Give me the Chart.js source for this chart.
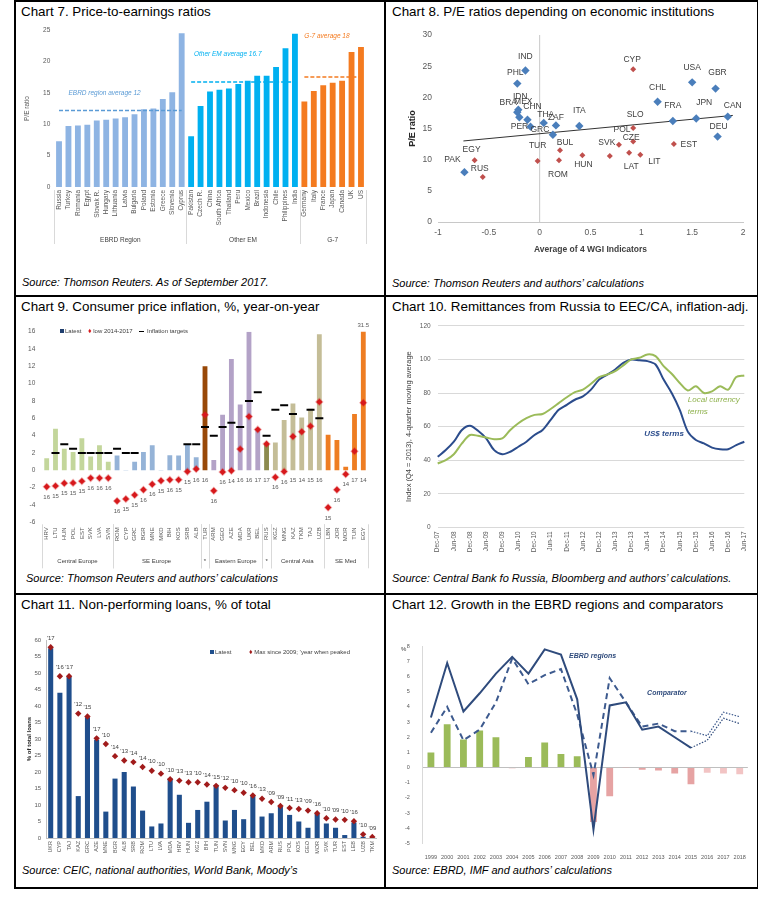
<!DOCTYPE html>
<html>
<head>
<meta charset="utf-8">
<script src="https://cdn.jsdelivr.net/npm/chart.js@4.4.0/dist/chart.umd.min.js"></script>
<style>
  body { margin: 0; background: #fff; }
  #page { position: relative; width: 770px; height: 906px; background: #fff;
          font-family: "Liberation Sans", Arial, sans-serif; }
  .ln { position: absolute; background: #000; }
  .ttl { position: absolute; font-size: 13.4px; line-height: 16px; color: #000; white-space: nowrap; }
  .src { position: absolute; font-size: 11px; line-height: 14px; font-style: italic; color: #000; white-space: nowrap; }
  canvas { position: absolute; }
  .lg { position: absolute; font-size: 6px; line-height: 8px; color: #404040; white-space: nowrap; }
  .lg i { display: inline-block; vertical-align: middle; margin-right: 1px; }
</style>
</head>
<body>
<div id="page">
  <!-- table frame -->
  <div class="ln" style="left:14px;top:0;width:744px;height:1.5px"></div>
  <div class="ln" style="left:14px;top:887px;width:744px;height:1.5px"></div>
  <div class="ln" style="left:14px;top:0;width:1.5px;height:889px"></div>
  <div class="ln" style="left:756.5px;top:0;width:1.5px;height:889px"></div>
  <div class="ln" style="left:384px;top:0;width:1.5px;height:889px"></div>
  <div class="ln" style="left:14px;top:295px;width:744px;height:1.5px"></div>
  <div class="ln" style="left:14px;top:593px;width:744px;height:1.5px"></div>

  <div class="ttl" style="left:21px;top:4px">Chart 7. Price-to-earnings ratios</div>
  <div class="ttl" style="left:392px;top:4px">Chart 8. P/E ratios depending on economic institutions</div>
  <div class="ttl" style="left:21px;top:299px">Chart 9. Consumer price inflation, %, year-on-year</div>
  <div class="ttl" style="left:392px;top:299px">Chart 10. Remittances from Russia to EEC/CA, inflation-adj.</div>
  <div class="ttl" style="left:21px;top:597px">Chart 11. Non-performing loans, % of total</div>
  <div class="ttl" style="left:392px;top:597px">Chart 12. Growth in the EBRD regions and comparators</div>

  <div class="src" style="left:22px;top:275px">Source: Thomson Reuters. As of September 2017.</div>
  <div class="src" style="left:392px;top:276px">Source: Thomson Reuters and authors’ calculations</div>
  <div class="src" style="left:26px;top:571px">Source: Thomson Reuters and authors’ calculations</div>
  <div class="src" style="left:392px;top:571px">Source: Central Bank fo Russia, Bloomberg and authors’ calculations.</div>
  <div class="src" style="left:22px;top:863px">Source: CEIC, national authorities, World Bank, Moody’s</div>
  <div class="src" style="left:392px;top:863px">Source: EBRD, IMF and authors’ calculations</div>

  <canvas id="c7" width="370" height="236" style="left:14px;top:20px"></canvas>
  <canvas id="c8" width="371" height="256" style="left:386px;top:22px"></canvas>
  <canvas id="c9" width="370" height="254" style="left:14px;top:318px"></canvas>
  <canvas id="c10" width="371" height="253" style="left:386px;top:315px"></canvas>
  <canvas id="c11" width="370" height="236" style="left:14px;top:628px"></canvas>
  <canvas id="c12" width="371" height="236" style="left:386px;top:630px"></canvas>

  <div class="lg" style="left:60px;top:327px">
    <i style="width:4px;height:4px;background:#1F3E6E"></i>Latest&nbsp;&nbsp;&nbsp;
    <span style="color:#D7191C;font-size:7px">&#9830;</span> low 2014-2017&nbsp;&nbsp;&nbsp;
    <i style="width:5px;height:1.5px;background:#000"></i> Inflation targets
  </div>
  <div class="lg" style="left:210px;top:648px">
    <i style="width:4px;height:4px;background:#1F4E8C"></i>Latest
  </div>
  <div class="lg" style="left:249px;top:648px">
    <span style="color:#A11B1B;font-size:7px">&#9830;</span> Max since 2009; ’year when peaked
  </div>
  <div class="lg" style="left:401px;top:645px;font-size:6px">%</div>
</div>

<script>
// ---------- Chart 7 data ----------
const peCountries = ["Russia", "Turkey", "Romania", "Egypt", "Slovak R.", "Hungary", "Lithuania", "Latvia",
  "Bulgaria", "Poland", "Estonia", "Greece", "Slovenia", "Cyprus",
  "Pakistan", "Czech R.", "China", "South Africa", "Thailand", "Peru", "Mexico", "Brazil", "Indonesia",
  "Chile", "Philippines", "India",
  "Germany", "Italy", "France", "Japan", "Canada", "UK", "US"];
const peValues = [7.3, 9.7, 9.8, 9.9, 10.6, 10.7, 10.9, 11.1, 11.6, 12.4, 12.5, 14.0, 15.1, 24.5,
  8.1, 12.9, 15.2, 15.5, 15.7, 16.4, 16.9, 17.7, 17.7, 19.1, 22.1, 24.4,
  13.6, 15.3, 16.2, 16.6, 16.9, 21.5, 22.3];
const peGroupNames = ["EBRD Region", "Other EM", "G-7"];
const peGroupSizes = [14, 12, 7];
const peGroupAverages = [12.2, 16.7, 17.5];
const peAverageTexts = ["EBRD region average 12", "Other EM average 16.7", "G-7 average 18"];

// ---------- Chart 8 data ----------
const wgiNamesBlue = ["IND", "PHL", "IDN", "BRA", "MEX", "CHN", "PER", "THA", "ZAF", "GRC", "ITA",
  "CHL", "FRA", "USA", "JPN", "GBR", "CAN", "DEU", "PAK"];
const wgiXBlue = [-0.14, -0.22, -0.21, -0.22, -0.2, -0.12, -0.09, 0.04, 0.16, 0.13, 0.39,
  1.16, 1.31, 1.5, 1.54, 1.73, 1.85, 1.75, -0.74];
const wgiPEBlue = [24.3, 22.2, 18.0, 17.6, 16.8, 16.4, 15.3, 15.9, 15.5, 14.0, 15.4,
  19.3, 16.2, 22.4, 16.6, 21.4, 16.9, 13.7, 8.0];
const wgiNamesRed = ["CYP", "SLO", "POL", "CZE", "SVK", "LAT", "LIT", "EST", "HUN", "BUL", "ROM", "TUR", "EGY", "RUS"];
const wgiXRed = [0.92, 0.92, 0.78, 0.92, 0.69, 0.88, 0.99, 1.32, 0.42, 0.2, 0.19, -0.02, -0.64, -0.56];
const wgiPERed = [24.5, 15.1, 12.4, 12.9, 10.6, 11.1, 10.8, 12.5, 10.7, 11.5, 9.9, 9.8, 9.9, 7.2];
const wgiTrendX = [-0.75, 1.9];
const wgiTrendY = [13.0, 17.1];

// ---------- Chart 9 data ----------
const cpiCountries = ["HRV", "LTU", "HUN", "POL", "EST", "SVK", "LVA", "SVN",
  "ROM", "CYP", "GRC", "BGR", "MNE", "MKD", "BIH", "KOS", "SRB", "ALB",
  "TUR", "ARM", "GEO", "AZE", "MDA", "UKR", "BEL", "RUS",
  "KGZ", "MNG", "KAZ", "TKM", "TAJ", "UZB", "LBN", "JOR", "MOR", "TUN", "EGY"];
const cpiLatest = [1.4, 4.8, 2.5, 2.1, 3.7, 1.6, 2.9, 1.0,
  1.7, 0.05, 1.0, 2.1, 2.9, 0.05, 1.75, 1.7, 3.0, 1.5,
  12.0, 1.2, 6.4, 12.85, 7.6, 16.0, 4.8, 3.0,
  3.2, 5.8, 7.7, 6.1, 7.1, 15.7, 4.1, 3.5, 0.4, 6.5, 31.5];
const cpiLow = [-1.9, -1.8, -1.5, -1.45, -1.25, -0.9, -0.9, -0.9,
  -3.55, -3.3, -2.85, -2.25, -1.6, -1.2, -1.1, -1.1, -0.15, 0.15,
  6.4, -2.35, -0.2, -0.05, 2.45, 6.2, 4.7, 3.05,
  -0.8, -0.15, 3.9, 4.45, 5.1, 7.9, -4.3, -2.25, -0.45, 2.2, 7.8];
const cpiLowYear = ["16", "15", "15", "15", "15", "16", "16", "16",
  "16", "15", "15", "16", "16", "15", "16", "15", "15", "16",
  "16", "16", "16", "14", "16", "16", "17", "17",
  "16", "16", "15", "14", "15", "16", "15", "16", "14", "17", "14"];
const cpiTarget = [null, 2, 3, 2.5, 2, 2, 2, 2,
  2.5, 2, 2, null, null, null, null, null, 3, 3,
  5, 4, 5, 5.5, 5, 8, 9, 4,
  7, 7.5, 6.5, null, 7, 6, null, null, null, null, null];
const cpiRegions = ["Central Europe", "SE Europe", "*", "Eastern Europe", "*", "Central Asia", "SE Med"];
const cpiRegionSizes = [8, 10, 1, 6, 1, 6, 5];

// ---------- Chart 10 data ----------
const remitQuarters = ["Dec-07", "Mar-08", "Jun-08", "Sep-08", "Dec-08", "Mar-09", "Jun-09", "Sep-09",
  "Dec-09", "Mar-10", "Jun-10", "Sep-10", "Dec-10", "Mar-11", "Jun-11", "Sep-11", "Dec-11", "Mar-12",
  "Jun-12", "Sep-12", "Dec-12", "Mar-13", "Jun-13", "Sep-13", "Dec-13", "Mar-14", "Jun-14", "Sep-14",
  "Dec-14", "Mar-15", "Jun-15", "Sep-15", "Dec-15", "Mar-16", "Jun-16", "Sep-16", "Dec-16", "Mar-17", "Jun-17"];
const remitUsd = [42, 46, 51, 58, 60.5, 57.5, 53, 46, 43.5, 45, 48, 51, 55, 58, 64, 70, 73, 76, 78, 82,
  88, 91, 94, 98, 100, 99.5, 99, 97, 88, 80, 70, 57, 52, 50, 47.5, 46.5, 46.5, 49, 51];
const remitLocal = [38, 40, 43.5, 50, 55, 54.5, 53.5, 52.5, 53, 58, 62, 65, 67, 67.5, 70.5, 74, 77.5, 80.5, 82, 85.5,
  89.5, 91, 93, 96.5, 100, 101, 103, 102, 96, 91.5, 86, 81.5, 84, 80, 81, 84, 82, 89.5, 90.5];

// ---------- Chart 11 data ----------
const nplCountries = ["UKR", "CYP", "TAJ", "KAZ", "GRC", "AZE", "MNE", "BGR", "ALB", "SRB", "ROM", "LTU",
  "LVA", "MDA", "HRV", "HUN", "KGZ", "BIH", "TUN", "SVN", "MNG", "EGY", "BEL", "MKD",
  "ARM", "RUS", "POL", "KOS", "GEO", "MOR", "SVK", "TUR", "EST", "LEB", "UZB", "TKM"];
const nplLatest = [57.5, 44, 48.9, 12.7, 36.6, 29.8, 8.0, 18, 20, 15.6, 8.3, 3.5,
  4.4, 18, 13.1, 4.6, 8.5, 11, 15.8, 5.3, 8.5, 5.7, 12.7, 6.5,
  7.5, 9.5, 7.0, 5.0, 3.1, 7.3, 4.4, 3.1, 0.9, 4.7, 0.4, 0];
const nplMax = [57.8, 49, 49, 37.7, 36.8, 30.2, 28.5, 24.8, 23.5, 23, 21.5, 20.4,
  19.5, 17.8, 17.4, 16.9, 16.9, 16.2, 15.8, 15.2, 14.5, 13.7, 12.9, 11.9,
  10.9, 9.7, 9.1, 8.8, 8.3, 7.5, 6.0, 5.6, 5.5, 5.1, 1.1, 0.3];
const nplMaxYear = ["'17", "'16", "'17", "'12", "'15", "'17", "'10", "'14", "'13", "'14", "'14", "'10",
  "'10", "'10", "'13", "'13", "'10", "'14", "'15", "'12", "'10", "'10", "'16", "'13",
  "'09", "'09", "'11", "'13", "'09", "'16", "'10", "'09", "'10", "'16", "'10", "'09"];

// ---------- Chart 12 data ----------
const growthYears = ["1999", "2000", "2001", "2002", "2003", "2004", "2005", "2006", "2007", "2008",
  "2009", "2010", "2011", "2012", "2013", "2014", "2015", "2016", "2017", "2018"];
const growthEbrd = [3.3, 6.9, 3.7, 4.9, 6.2, 7.3, 6.2, 7.8, 7.45, 4.5, -4.1, 4.1, 4.3, 2.5, 2.7, 2.0, 1.3, 1.8, 3.25, 2.9];
const growthComparator = [2.3, 4.0, 1.8, 2.5, 4.3, 7.2, 5.5, 6.1, 6.5, 3.5, -0.5, 5.9, 4.3, 2.7, 2.9, 2.4, 2.4, 2.1, 3.65, 3.35];
const growthGap = [1.0, 2.85, 1.85, 2.45, 2.0, -0.05, 0.7, 1.65, 0.9, 0.75, -3.6, -1.9, -0.02, -0.15, -0.2, -0.4, -1.1, -0.35, -0.4, -0.45];
const growthFirstForecast = 17; // lines dotted after 2016

// ---------- common ----------
const FONT = "'Liberation Sans', Arial, sans-serif";
Chart.defaults.font.family = FONT;
Chart.defaults.color = "#595959";
Chart.defaults.animation = false;
Chart.defaults.responsive = false;
Chart.defaults.plugins.legend.display = false;
Chart.defaults.plugins.tooltip.enabled = false;

const fixW = w => s => { s.width = w; };
const fixH = h => s => { s.height = h; };

function groupIndex(sizes) {
  const out = [];
  sizes.forEach((n, g) => { for (let k = 0; k < n; k++) out.push(g); });
  return out;
}

function drawGroups(chart, names, sizes, labelDy, sepTop, sepBottom, font) {
  const { ctx, chartArea, scales: { x } } = chart;
  const step = x.getPixelForValue(1) - x.getPixelForValue(0);
  ctx.save();
  ctx.strokeStyle = "#D9D9D9";
  ctx.lineWidth = 1;
  ctx.fillStyle = "#404040";
  ctx.font = font;
  ctx.textAlign = "center";
  ctx.textBaseline = "middle";
  let start = 0;
  names.forEach((name, g) => {
    const end = start + sizes[g] - 1;
    const left = x.getPixelForValue(start) - step / 2;
    const right = x.getPixelForValue(end) + step / 2;
    [left, right].forEach(px => {
      ctx.beginPath();
      ctx.moveTo(Math.round(px) + 0.5, chartArea.bottom + sepTop);
      ctx.lineTo(Math.round(px) + 0.5, chartArea.bottom + sepBottom);
      ctx.stroke();
    });
    ctx.fillText(name, (left + right) / 2, chartArea.bottom + labelDy);
    start = end + 1;
  });
  ctx.restore();
}

// ---------- Chart 7 ----------
const peGroupOf = groupIndex(peGroupSizes);
const peColors = ["#8EB4E3", "#00B0F0", "#F47B20"];
const peLineColors = ["#5B9BD5", "#00B0F0", "#F47B20"];
const avgTextLift = [17, 28, 41];
const avgTextShift = [1, 14.3, 26];

new Chart(document.getElementById("c7"), {
  type: "bar",
  data: {
    labels: peCountries,
    datasets: [
      { data: peValues, backgroundColor: peValues.map((v, i) => peColors[peGroupOf[i]]),
        barPercentage: 0.62, categoryPercentage: 1, order: 2 },
      ...peGroupAverages.map((avg, g) => ({
        type: "line",
        data: peCountries.map((c, i) => peGroupOf[i] === g ? avg : null),
        borderColor: peLineColors[g], borderWidth: 1.5, borderDash: [4, 2],
        pointRadius: 0, spanGaps: false, order: 1
      }))
    ]
  },
  options: {
    layout: { padding: { top: 10, right: 18.3, left: 0, bottom: 0 } },
    scales: {
      x: { offset: true, grid: { display: false, drawTicks: false }, border: { display: false },
           ticks: { autoSkip: false, minRotation: 90, maxRotation: 90, padding: 3, font: { size: 6.5 } },
           afterFit: fixH(69) },
      y: { min: 0, max: 25, grid: { display: false, drawTicks: false }, border: { display: false },
           ticks: { stepSize: 5, padding: 4, font: { size: 6.5 } },
           title: { display: true, text: "P/E ratio", font: { size: 6.5 }, padding: { top: 9, bottom: 0 } },
           afterFit: fixW(40.3) }
    }
  },
  plugins: [{
    id: "peText",
    afterDatasetsDraw(chart) {
      const { ctx, scales: { x, y } } = chart;
      ctx.save();
      ctx.font = "italic 6.5px " + FONT;
      ctx.textBaseline = "middle";
      peAverageTexts.forEach((t, g) => {
        ctx.fillStyle = peLineColors[g];
        ctx.fillText(t, x.getPixelForValue(avgTextShift[g]), y.getPixelForValue(peGroupAverages[g]) - avgTextLift[g]);
      });
      ctx.restore();
      drawGroups(chart, peGroupNames, peGroupSizes, 53, 3, 57, "6.5px " + FONT);
    }
  }]
});

// ---------- Chart 8 ----------
const wgiLabelShift = {
  IND: [0, -14], PHL: [-2, -11], IDN: [2, -13], BRA: [-9, -10], MEX: [4, -16], CHN: [5, -13],
  PER: [-11, 0], THA: [2, -8], ZAF: [0, -8], GRC: [-13, -5], ITA: [0, -15], CHL: [0, -14],
  FRA: [0, -15], USA: [0, -15], JPN: [8, -16], GBR: [2, -16], CAN: [5, -11], DEU: [1, -10],
  PAK: [-12, -12], EGY: [-3, -11], RUS: [-3, -8], TUR: [0, -15], ROM: [-1, 14], BUL: [5, -8],
  HUN: [1, 9], SVK: [-3, -13], POL: [3, -15], CZE: [-2, -4], SLO: [2, -13], LAT: [2, 14],
  LIT: [14, 7], EST: [15, 1], CYP: [-1, -10]
};
const wgiNames = [wgiNamesBlue, wgiNamesRed];

new Chart(document.getElementById("c8"), {
  type: "scatter",
  data: {
    datasets: [
      { data: wgiXBlue.map((x, i) => ({ x, y: wgiPEBlue[i] })), pointStyle: "rectRot",
        pointRadius: 4.2, backgroundColor: "#4A7EBB", borderColor: "#4A7EBB", borderWidth: 0, order: 1 },
      { data: wgiXRed.map((x, i) => ({ x, y: wgiPERed[i] })), pointStyle: "rectRot",
        pointRadius: 3, backgroundColor: "#C0504D", borderColor: "#C0504D", borderWidth: 0, order: 1 },
      { type: "line", data: wgiTrendX.map((x, i) => ({ x, y: wgiTrendY[i] })),
        borderColor: "#333", borderWidth: 1, pointRadius: 0, order: 2 },
      // vertical axis line at x = 0
      { type: "line", data: [{ x: 0, y: 0 }, { x: 0, y: 30 }],
        borderColor: "#C8C8C8", borderWidth: 1, pointRadius: 0, order: 3 }
    ]
  },
  options: {
    layout: { padding: { top: 13, right: 14, left: 0, bottom: 0 } },
    scales: {
      x: { min: -1, max: 2,
           grid: { display: false, drawTicks: false },
           border: { display: true, color: "#C8C8C8" },
           ticks: { stepSize: 0.5, padding: 6, font: { size: 8.5 }, callback: v => String(v) },
           title: { display: true, text: "Average of 4 WGI Indicators", color: "#404040",
                    font: { size: 8.5, weight: "bold" }, padding: { top: 0, bottom: 23 } },
           afterFit: fixH(56) },
      y: { min: 0, max: 30, grid: { display: false, drawTicks: false }, border: { display: false },
           ticks: { stepSize: 5, padding: 6, font: { size: 8.5 } },
           title: { display: true, text: "P/E ratio", color: "#262626",
                    font: { size: 9, weight: "bold" }, padding: { top: 21, bottom: 0 } },
           afterFit: fixW(52) }
    }
  },
  plugins: [{
    id: "wgiLabels",
    afterDatasetsDraw(chart) {
      const { ctx } = chart;
      ctx.save();
      ctx.font = "8.5px " + FONT;
      ctx.fillStyle = "#404040";
      ctx.textAlign = "center";
      ctx.textBaseline = "middle";
      wgiNames.forEach((names, d) => {
        chart.getDatasetMeta(d).data.forEach((pt, i) => {
          const s = wgiLabelShift[names[i]] || [0, -13];
          ctx.fillText(names[i], pt.x + s[0], pt.y + s[1]);
        });
      });
      ctx.restore();
    }
  }]
});

// ---------- Chart 9 ----------
const cpiGroupOf = groupIndex(cpiRegionSizes);
const cpiColors = ["#C3D69B", "#95B3D7", "#984807", "#B3A2C7", "#8C8A4E", "#C4BD97", "#EE7D22"];
const cpiMax = 16;

new Chart(document.getElementById("c9"), {
  type: "bar",
  data: {
    labels: cpiCountries,
    datasets: [
      { data: cpiLatest, backgroundColor: cpiLatest.map((v, i) => cpiColors[cpiGroupOf[i]]),
        barPercentage: 0.55, categoryPercentage: 1, order: 3 },
      { type: "line", data: cpiTarget, showLine: false, pointStyle: "line", pointRadius: 4,
        borderColor: "#000", borderWidth: 2, order: 2 },
      { type: "line", data: cpiLow, showLine: false, pointStyle: "rectRot", pointRadius: 3.2,
        backgroundColor: "#D7191C", borderColor: "rgba(215,25,28,0.35)", borderWidth: 1.5, order: 1 }
    ]
  },
  options: {
    layout: { padding: { top: 13.7, right: 16.3, left: 0, bottom: 0 } },
    scales: {
      x: { offset: true, grid: { display: false, drawTicks: false }, border: { display: false },
           ticks: { autoSkip: false, minRotation: 90, maxRotation: 90, padding: 5, font: { size: 6 } },
           afterFit: fixH(49.7) },
      y: { min: -6, max: cpiMax, grid: { display: false, drawTicks: false }, border: { display: false },
           ticks: { stepSize: 2, padding: 7, font: { size: 6.5 } },
           afterFit: fixW(28.3) }
    }
  },
  plugins: [{
    id: "cpiText",
    afterDatasetsDraw(chart) {
      const { ctx, chartArea, scales: { x, y } } = chart;
      ctx.save();
      ctx.font = "6px " + FONT;
      ctx.fillStyle = "#595959";
      ctx.textAlign = "center";
      ctx.textBaseline = "middle";
      cpiLowYear.forEach((yr, i) => {
        ctx.fillText(yr, x.getPixelForValue(i), y.getPixelForValue(Math.min(cpiLow[i], 0)) + 10.5);
      });
      cpiLatest.forEach((v, i) => {
        if (v > cpiMax) ctx.fillText(String(v), x.getPixelForValue(i), chartArea.top - 6);
      });
      ctx.restore();
      drawGroups(chart, cpiRegions, cpiRegionSizes, 39, 2, 46, "6px " + FONT);
    }
  }]
});

// ---------- Chart 10 ----------
new Chart(document.getElementById("c10"), {
  type: "line",
  data: {
    labels: remitQuarters,
    datasets: [
      { data: remitLocal, borderColor: "#9BBB59", borderWidth: 2, pointRadius: 0, tension: 0.3 },
      { data: remitUsd, borderColor: "#2B4C8C", borderWidth: 2, pointRadius: 0, tension: 0.3 }
    ]
  },
  options: {
    layout: { padding: { top: 8.3, right: 12.7, left: 0, bottom: 0 } },
    scales: {
      x: { offset: false, grid: { display: false, drawTicks: false }, border: { display: false },
           ticks: { autoSkip: false, minRotation: 90, maxRotation: 90, padding: 4, font: { size: 6.5 },
                    callback(v, i) { return i % 2 === 0 ? this.getLabelForValue(v) : ""; } },
           afterFit: fixH(40.7) },
      y: { min: 0, max: 120, grid: { color: "#D9D9D9", drawTicks: false }, border: { display: false },
           ticks: { stepSize: 20, padding: 7, font: { size: 6.5 } },
           title: { display: true, text: "Index (Q4 = 2013), 4-quarter moving average", color: "#404040",
                    font: { size: 7.5 }, padding: { top: 18, bottom: 0 } },
           afterFit: fixW(51.7) }
    }
  },
  plugins: [{
    id: "remitText",
    afterDatasetsDraw(chart) {
      const { ctx, scales: { x, y } } = chart;
      ctx.save();
      ctx.textBaseline = "middle";
      ctx.font = "italic 8px " + FONT;
      ctx.fillStyle = "#8DB04A";
      ctx.fillText("Local currency", x.getPixelForValue(31), y.getPixelForValue(76));
      ctx.fillText("terms", x.getPixelForValue(31), y.getPixelForValue(74) + 9);
      ctx.font = "italic bold 8px " + FONT;
      ctx.fillStyle = "#2B4C8C";
      ctx.fillText("US$ terms", x.getPixelForValue(25.6), y.getPixelForValue(56));
      ctx.restore();
    }
  }]
});

// ---------- Chart 11 ----------
new Chart(document.getElementById("c11"), {
  type: "bar",
  data: {
    labels: nplCountries,
    datasets: [
      { data: nplLatest, backgroundColor: "#1F4E8C", barPercentage: 0.55, categoryPercentage: 1, order: 2 },
      { type: "line", data: nplMax, showLine: false, pointStyle: "rectRot", pointRadius: 3.2,
        backgroundColor: "#A11B1B", borderColor: "#A11B1B", borderWidth: 0, order: 1 }
    ]
  },
  options: {
    layout: { padding: { top: 12, right: 7.1, left: 0, bottom: 0 } },
    scales: {
      x: { offset: true, grid: { display: false, drawTicks: false }, border: { display: true, color: "#BFBFBF" },
           ticks: { autoSkip: false, minRotation: 90, maxRotation: 90, padding: 3, font: { size: 5.5 } },
           afterFit: fixH(26) },
      y: { min: 0, max: 60, grid: { display: false, drawTicks: false }, border: { display: true, color: "#BFBFBF" },
           ticks: { stepSize: 5, padding: 5, font: { size: 6 } },
           title: { display: true, text: "% of total loans", color: "#262626",
                    font: { size: 6, weight: "bold" }, padding: { top: 12, bottom: 0 } },
           afterFit: fixW(32.1) }
    }
  },
  plugins: [{
    id: "nplText",
    afterDatasetsDraw(chart) {
      const { ctx, scales: { x, y } } = chart;
      ctx.save();
      ctx.font = "6px " + FONT;
      ctx.fillStyle = "#404040";
      ctx.textAlign = "center";
      ctx.textBaseline = "middle";
      nplMaxYear.forEach((yr, i) => {
        ctx.fillText(yr, x.getPixelForValue(i), y.getPixelForValue(nplMax[i]) - 9);
      });
      ctx.restore();
    }
  }]
});

// ---------- Chart 12 ----------
const isForecast = c => c.p0DataIndex >= growthFirstForecast - 1;
new Chart(document.getElementById("c12"), {
  type: "bar",
  data: {
    labels: growthYears,
    datasets: [
      { data: growthGap, order: 3, barPercentage: 0.42, categoryPercentage: 1,
        backgroundColor: growthGap.map((v, i) => v >= 0 ? "#9BBB59" : (i >= growthFirstForecast ? "#F2C4C4" : "#E6A3A3")) },
      { type: "line", data: growthEbrd, order: 1, borderColor: "#2F4B7C", borderWidth: 2, pointRadius: 0,
        segment: { borderDash: c => isForecast(c) ? [1.5, 1.5] : undefined,
                   borderWidth: c => isForecast(c) ? 1.2 : 2 } },
      { type: "line", data: growthComparator, order: 2, borderColor: "#3D5A8E", borderWidth: 2, pointRadius: 0,
        borderDash: [6, 4],
        segment: { borderDash: c => isForecast(c) ? [1.5, 1.5] : [6, 4],
                   borderWidth: c => isForecast(c) ? 1.2 : 2 } }
    ]
  },
  options: {
    layout: { padding: { top: 11.7, right: 6.1, left: 0, bottom: 0 } },
    scales: {
      x: { offset: true, grid: { display: false, drawTicks: false }, border: { display: false },
           ticks: { autoSkip: false, minRotation: 0, maxRotation: 0, padding: 11, font: { size: 5.5 } },
           afterFit: fixH(22.7) },
      y: { min: -5, max: 8,
           grid: { drawTicks: false, color: c => (c.tick && Math.abs(c.tick.value) < 1e-9) ? "#BFBFBF" : "rgba(0,0,0,0)" },
           border: { display: true, color: "#D9D9D9" },
           ticks: { stepSize: 1, padding: 13, font: { size: 5.5 } },
           afterFit: fixW(36.8) }
    }
  },
  plugins: [{
    id: "growthText",
    afterDatasetsDraw(chart) {
      const { ctx, scales: { x, y } } = chart;
      ctx.save();
      ctx.textBaseline = "middle";
      ctx.fillStyle = "#2F4B7C";
      ctx.font = "italic bold 7px " + FONT;
      ctx.fillText("EBRD regions", x.getPixelForValue(8.5), y.getPixelForValue(7.35));
      ctx.fillText("Comparator", x.getPixelForValue(13.3), y.getPixelForValue(4.9));
      ctx.restore();
    }
  }]
});
</script>
</body>
</html>
